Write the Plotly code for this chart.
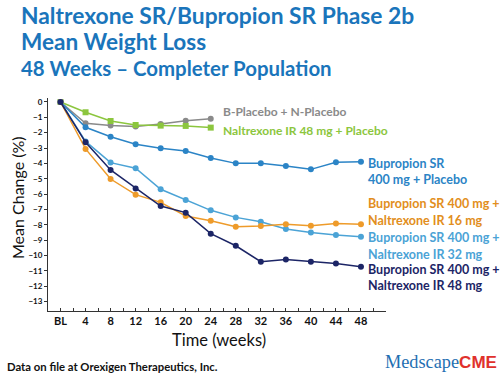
import plotly.graph_objects as go

weeks = [0, 4, 8, 12, 16, 20, 24, 28, 32, 36, 40, 44, 48]
tick_labels = ["BL", "4", "8", "12", "16", "20", "24", "28", "32", "36", "40", "44", "48"]

placebo_weeks = [0, 4, 8, 12, 16, 20, 24]
b_placebo_n_placebo = [0, -1.39, -1.54, -1.6, -1.43, -1.22, -1.09]
naltrexone48_placebo = [0, -0.67, -1.24, -1.5, -1.54, -1.56, -1.67]
bupropion_placebo = [0, -1.65, -2.26, -2.76, -3.02, -3.19, -3.65, -4.0, -4.0, -4.17, -4.39, -3.93, -3.89]
bup_nal16 = [0, -3.06, -5.02, -6.04, -6.54, -7.43, -7.74, -8.13, -8.08, -7.97, -8.06, -7.91, -7.97]
bup_nal32 = [0, -2.57, -3.95, -4.32, -5.69, -6.39, -7.06, -7.52, -7.8, -8.28, -8.5, -8.67, -8.78]
bup_nal48 = [0, -2.63, -4.43, -5.63, -6.78, -7.21, -8.58, -9.37, -10.41, -10.26, -10.41, -10.52, -10.73]

GREY = "#8a8a8a"
GREEN = "#8cc63e"
MIDBLUE = "#2b84c6"
LIGHTBLUE = "#4ba3d6"
ORANGE = "#ee9b2a"
NAVY = "#1c2566"
TITLE = "#1a75bb"

L, R, T, B = 48, 114, 98, 64
W, H = 500, 375
PW, PH = W - L - R, H - T - B


def px(x):
    return (x - L) / PW


def py(y):
    return (H - B - y) / PH


fig = go.Figure()

series = [
    (placebo_weeks, b_placebo_n_placebo, GREY, "circle"),
    (placebo_weeks, naltrexone48_placebo, GREEN, "square"),
    (weeks, bupropion_placebo, MIDBLUE, "circle"),
    (weeks, bup_nal32, LIGHTBLUE, "circle"),
    (weeks, bup_nal16, ORANGE, "circle"),
    (weeks, bup_nal48, NAVY, "circle"),
]
for xs, ys, col, sym in series:
    fig.add_trace(go.Scatter(
        x=xs, y=ys, mode="lines+markers",
        line=dict(color=col, width=1.5),
        marker=dict(color=col, size=6, symbol=sym),
        showlegend=False, hoverinfo="skip",
    ))

FONT = "Lato"

annotations = []


def add_text(text, x, y, size, color, bold=True, xanchor="left", family=FONT):
    annotations.append(dict(
        text=text, x=px(x), y=py(y), xref="paper", yref="paper",
        xanchor=xanchor, yanchor="middle", showarrow=False,
        font=dict(family=family, size=size, color=color,
                  weight="bold" if bold else "normal"),
    ))


# Title
add_text("Naltrexone SR/Bupropion SR Phase 2b", 19, 15, 22.8, TITLE)
add_text("Mean Weight Loss", 19, 42, 22.6, TITLE)
add_text("48 Weeks \u2013 Completer Population", 19, 68, 20.4, TITLE)

# Series labels
add_text("B-Placebo + N-Placebo", 221, 111, 12, GREY)
add_text("Naltrexone IR 48 mg + Placebo", 221, 130, 12, GREEN)
add_text("Bupropion SR", 366, 163, 12.5, MIDBLUE)
add_text("400 mg + Placebo", 366, 179.5, 12.5, MIDBLUE)
add_text("Bupropion SR 400 mg +", 366, 203.5, 12.5, "#e28e20")
add_text("Naltrexone IR 16 mg", 366, 220.5, 12.5, "#e28e20")
add_text("Bupropion SR 400 mg +", 366, 237, 12.5, LIGHTBLUE)
add_text("Naltrexone IR 32 mg", 366, 254, 12.5, LIGHTBLUE)
add_text("Bupropion SR 400 mg +", 366, 269, 12.5, NAVY)
add_text("Naltrexone IR 48 mg", 366, 285, 12.5, NAVY)

# Footer
add_text("Data on file at Orexigen Therapeutics, Inc.", 5, 366, 11.3, "#111111")
annotations.append(dict(
    text="<span style='font-family:Liberation Serif;font-size:18.3px'>Medscape</span>"
         "<span style='font-family:Liberation Sans;font-weight:bold;font-size:17px;color:#e0312c'>CME</span>",
    x=px(383), y=py(362), xref="paper", yref="paper",
    xanchor="left", yanchor="middle", showarrow=False,
    font=dict(family="Liberation Serif", size=18.3, color="#1f6fb2"),
))

# Axis titles
add_text("Mean Change (%)", 17, 198, 16, "#111111", bold=False, xanchor="center")
annotations[-1]["textangle"] = -90
add_text("Time (weeks)", 219, 340, 16.5, "#111111", bold=False, xanchor="center")

fig.update_layout(
    width=W, height=H,
    margin=dict(l=L, r=R, t=T, b=B, pad=0),
    paper_bgcolor="white", plot_bgcolor="white",
    annotations=annotations,
    xaxis=dict(
        range=[-2, 52], tickvals=weeks, ticktext=tick_labels,
        showgrid=False, zeroline=False, showline=True,
        linecolor="#333333", linewidth=1,
        ticks="inside", ticklen=3, tickcolor="#333333",
        minor=dict(dtick=2, tick0=0, ticks="inside", ticklen=3, tickcolor="#333333", showgrid=False),
        tickfont=dict(family=FONT, size=11, color="#111111", weight="bold"),
        fixedrange=True,
    ),
    yaxis=dict(
        range=[-13.62, 0.26], tickvals=list(range(0, -14, -1)),
        showgrid=False, zeroline=False, showline=True,
        linecolor="#333333", linewidth=1,
        ticks="outside", ticklen=3, tickcolor="#333333",
        tickfont=dict(family=FONT, size=8, color="#111111", weight="bold"),
        fixedrange=True,
    ),
)

fig.write_html(
    "out.html",
    config={"displayModeBar": False},
    post_script="document.body.style.margin='0';document.body.style.overflow='hidden';",
)
